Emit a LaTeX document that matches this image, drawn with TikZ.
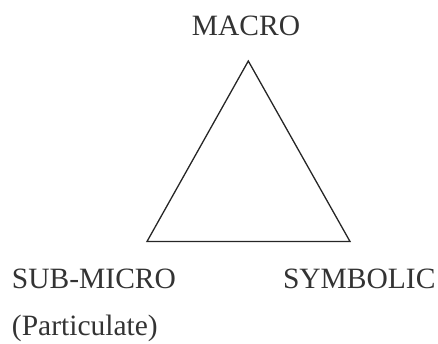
\documentclass[tikz,border=0pt]{standalone}
\usepackage{fontspec}
\setmainfont{Liberation Serif}
\begin{document}
\begin{tikzpicture}[x=1pt,y=-1pt,
  lbl/.style={inner sep=0pt, outer sep=0pt, text=black!80, font=\fontsize{29.5}{35}\selectfont},
  edge/.style={draw=black!85, line width=1.3pt, line join=miter}]
\useasboundingbox (0,0) rectangle (438,343);
\node[lbl, anchor=base] (macro) at (246,35) {MACRO};
\node[lbl, anchor=base west] (sub) at (12,288) {SUB-MICRO};
\node[lbl, anchor=base west] (sym) at (283,288) {SYMBOLIC};
\node[lbl, anchor=base west] (part) at (12,335) {(Particulate)};
\coordinate (top) at (248.3,61);
\coordinate (bl) at (147,241.5);
\coordinate (br) at (350,241.5);
\draw[edge] (top) -- (br) -- (bl) -- cycle;
\end{tikzpicture}
\end{document}
